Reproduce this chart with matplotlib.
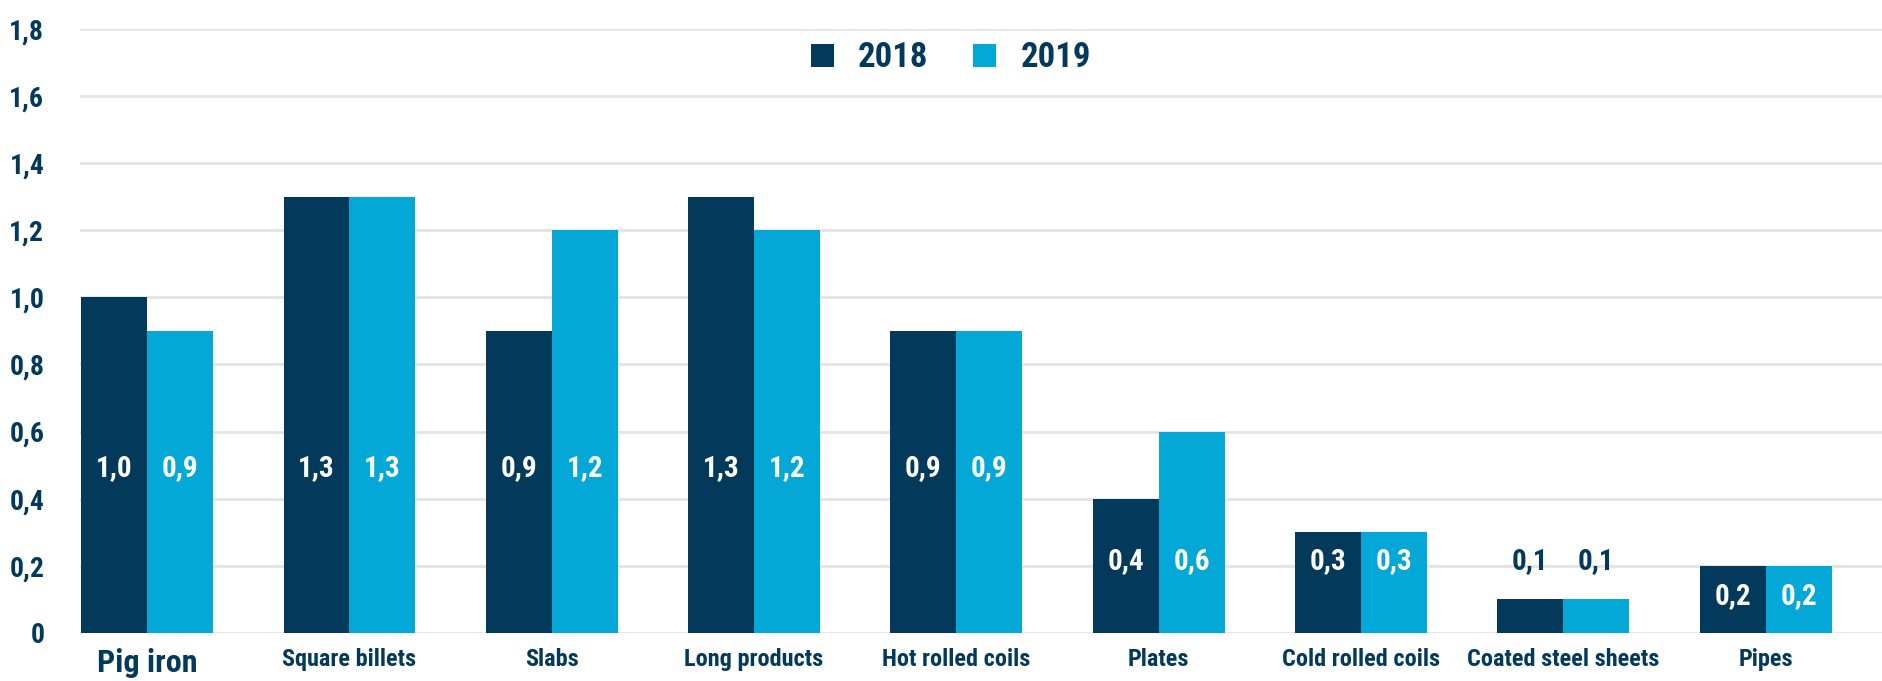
import matplotlib
matplotlib.use("Agg")
import matplotlib.pyplot as plt
from matplotlib import font_manager
import numpy as np

# pick a condensed bold face if one is around
installed = {f.name for f in font_manager.fontManager.ttflist}
family = 'DejaVu Sans'
for name in ['Liberation Sans Narrow', 'DejaVu Sans Condensed', 'Roboto Condensed', 'Noto Sans']:
    if name in installed:
        family = name
        break
plt.rcParams['font.family'] = [family, 'DejaVu Sans']
plt.rcParams['font.weight'] = 'bold'

categories = ['Pig iron', 'Square billets', 'Slabs', 'Long products', 'Hot rolled coils',
              'Plates', 'Cold rolled coils', 'Coated steel sheets', 'Pipes']
years = ['2018', '2019']
vals_2018 = [1.0, 1.3, 0.9, 1.3, 0.9, 0.4, 0.3, 0.1, 0.2]
vals_2019 = [0.9, 1.3, 1.2, 1.2, 0.9, 0.6, 0.3, 0.1, 0.2]
yticks = [0, 0.2, 0.4, 0.6, 0.8, 1.0, 1.2, 1.4, 1.6, 1.8]

navy = '#033a5c'
cyan = '#04a8d6'

fig = plt.figure(figsize=(18.83, 6.81), dpi=100)
ax = fig.add_axes([0.0427, 0.0705, 0.9573, 0.8872])

x = np.arange(len(categories))
w = 0.326
b1 = ax.bar(x - w / 2, vals_2018, w, color=navy, label=years[0], zorder=3)
b2 = ax.bar(x + w / 2, vals_2019, w, color=cyan, label=years[1], zorder=3)

def put_labels(bars, values):
    for bar, v in zip(bars, values):
        if v >= 0.85:
            ly = 0.49
        elif v >= 0.3:
            ly = 0.215
        elif v > 0.15:
            ly = v / 2 + 0.01
        else:
            ly = 0.215  # too short, sits above the bar
        col = 'white' if v > 0.15 else navy
        ax.text(bar.get_x() + bar.get_width() / 2, ly, f'{v:.1f}'.replace('.', ','),
                ha='center', va='center', color=col, fontsize=21, fontweight='bold', zorder=4)

put_labels(b1, vals_2018)
put_labels(b2, vals_2019)

ax.set_xlim(-0.33, 8.58)
ax.set_ylim(0, 1.8)
ax.set_yticks(yticks)
ax.set_yticklabels([('0' if t == 0 else f'{t:.1f}'.replace('.', ',')) for t in yticks])
ax.tick_params(axis='y', length=0, pad=26, labelsize=20, labelcolor=navy)
ax.set_xticks(x)
ax.set_xticklabels(categories)
ax.tick_params(axis='x', length=0, pad=11, labelsize=17.5, labelcolor=navy)
ax.get_xticklabels()[0].set_fontsize(23)
for lab in ax.get_xticklabels() + ax.get_yticklabels():
    lab.set_fontweight('bold')

ax.yaxis.grid(True, color='#e3e3e3', lw=2, zorder=0)
ax.set_axisbelow(True)
for s in ax.spines.values():
    s.set_visible(False)

leg = fig.legend(loc='center', bbox_to_anchor=(0.505, 0.915), ncol=2, frameon=False,
                 fontsize=25, handlelength=0.65, handleheight=0.65, columnspacing=1.3,
                 handletextpad=0.7)
for t in leg.get_texts():
    t.set_color(navy)
    t.set_fontweight('bold')

fig.savefig('out.png', dpi=100, facecolor='white')
